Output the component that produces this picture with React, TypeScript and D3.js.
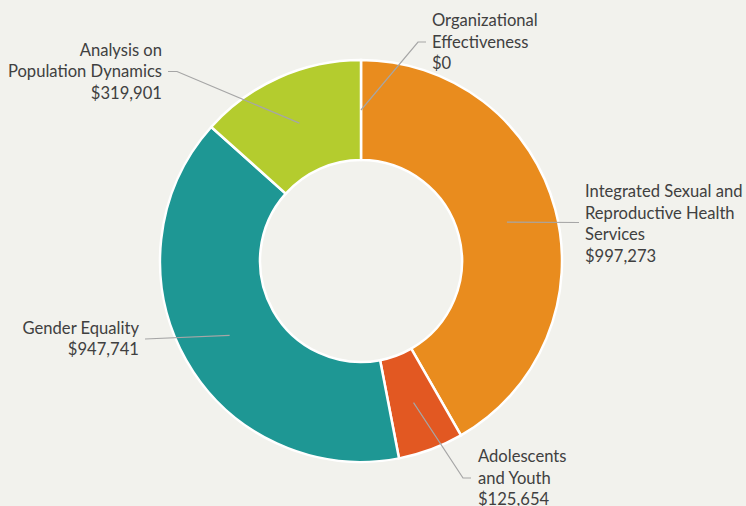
import React from "react";
import * as d3 from "d3";

const categories = [
  "Organizational Effectiveness",
  "Integrated Sexual and Reproductive Health Services",
  "Adolescents and Youth",
  "Gender Equality",
  "Analysis on Population Dynamics",
];
const values = [0, 997273, 125654, 947741, 319901];
const labelLines = [
  ["Organizational", "Effectiveness"],
  ["Integrated Sexual and", "Reproductive Health", "Services"],
  ["Adolescents", "and Youth"],
  ["Gender Equality"],
  ["Analysis on", "Population Dynamics"],
];
const colors = ["#8c8c8c", "#E98C1E", "#E25822", "#1E9794", "#B4CC2E"];

// label layout (positions only)
const labelLayout = [
  { x: 432, anchor: "start", y: 41.8, elbow: [418, 42], end: [426, 42] },
  { x: 585, anchor: "start", y: 223.3, elbow: null, end: [579, 222.5] },
  { x: 478, anchor: "start", y: 477.5, elbow: [463, 478], end: [471, 478] },
  { x: 139, anchor: "end", y: 338.5, elbow: null, end: [145, 339] },
  { x: 162, anchor: "end", y: 71.2, elbow: [177, 71.5], end: [168, 71.5] },
];

const W = 746;
const H = 506;
const cx = 361;
const cy = 261;
const outerR = 201;
const innerR = 101;
const lineH = 21.6;
const fmt = (v: number) => "$" + d3.format(",")(v);

export default function App() {
  if (typeof document !== "undefined") {
    document.body.style.margin = "0";
    document.body.style.background = "#F2F2ED";
  }
  const pie = d3.pie<number>().sort(null).value((d) => d);
  const arcs = pie(values);
  const arc = d3.arc<d3.PieArcDatum<number>>().innerRadius(innerR).outerRadius(outerR);
  const mid = d3
    .arc<d3.PieArcDatum<number>>()
    .innerRadius((innerR + outerR) / 2)
    .outerRadius((innerR + outerR) / 2);

  return (
    <svg width={W} height={H} style={{ display: "block", background: "#F2F2ED" }}>
      <g transform={`translate(${cx},${cy})`}>
        {arcs.map((a, i) => (
          <path key={i} d={arc(a) || ""} fill={colors[i]} stroke="#FFFFFF" strokeWidth={2.5} />
        ))}
      </g>
      {arcs.map((a, i) => {
        const [mx, my] = mid.centroid(a);
        const L = labelLayout[i];
        const pts: [number, number][] = [[cx + mx, cy + my]];
        if (L.elbow) pts.push(L.elbow as [number, number]);
        pts.push(L.end as [number, number]);
        const lines = [...labelLines[i], fmt(values[i])];
        const n = lines.length;
        return (
          <g key={"l" + i}>
            <polyline
              points={pts.map((p) => p.join(",")).join(" ")}
              fill="none"
              stroke="#A6A6A6"
              strokeWidth={1.2}
            />
            <text
              fontFamily="Lato, sans-serif"
              fontSize={16.6}
              fill="#404040"
              textAnchor={L.anchor as any}
            >
              {lines.map((t, k) => (
                <tspan key={k} x={L.x} y={L.y + (k - (n - 1) / 2) * lineH + 6}>
                  {t}
                </tspan>
              ))}
            </text>
          </g>
        );
      })}
    </svg>
  );
}
